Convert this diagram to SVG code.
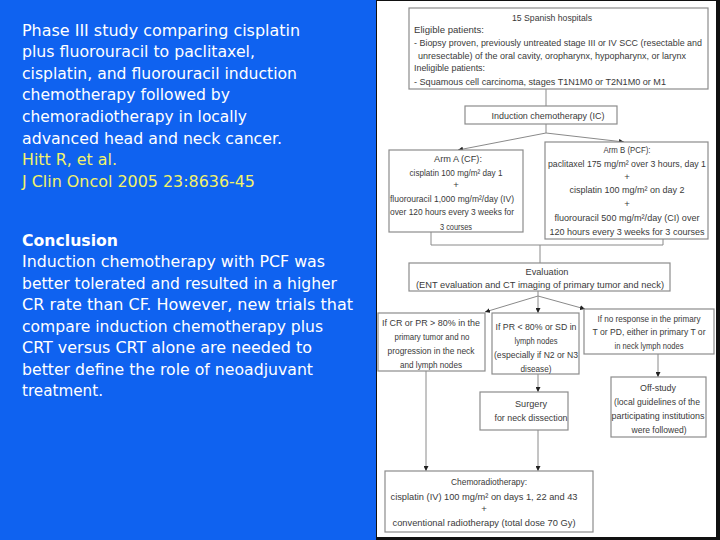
<svg xmlns="http://www.w3.org/2000/svg" width="720" height="540" viewBox="0 0 720 540">
<defs>
<marker id="ah" viewBox="0 0 6 6" refX="6" refY="3" markerWidth="5" markerHeight="5" markerUnits="userSpaceOnUse" orient="auto"><path d="M0,0 L6,3 L0,6 z" fill="#222"/></marker>
<style>
.t{font-family:"DejaVu Sans",Verdana,sans-serif;font-size:15px;fill:#fff}
.y{fill:#f2f26a}
.bd{font-weight:bold}
.b{fill:#fff;stroke:#8c8c8c;stroke-width:1.2}
.f{font-family:"Liberation Sans",Arial,sans-serif;font-size:9.5px;fill:#3a3a3a}
.c{text-anchor:middle}
.l{stroke:#8a8a8a;stroke-width:1;fill:none}
.a{stroke:#8a8a8a;stroke-width:1;fill:none;marker-end:url(#ah)}
</style>
</defs>
<rect width="720" height="540" fill="#0f62f0"/>
<g id="left-text">
<text class="t" x="22" y="35.7" textLength="278" lengthAdjust="spacingAndGlyphs">Phase III study comparing cisplatin</text>
<text class="t" x="22" y="57.3" textLength="233" lengthAdjust="spacingAndGlyphs">plus fluorouracil to paclitaxel,</text>
<text class="t" x="22" y="78.8" textLength="275" lengthAdjust="spacingAndGlyphs">cisplatin, and fluorouracil induction</text>
<text class="t" x="22" y="100.4" textLength="208" lengthAdjust="spacingAndGlyphs">chemotherapy followed by</text>
<text class="t" x="22" y="122" textLength="225" lengthAdjust="spacingAndGlyphs">chemoradiotherapy in locally</text>
<text class="t" x="22" y="143.5" textLength="260" lengthAdjust="spacingAndGlyphs">advanced head and neck cancer.</text>
<text class="t y" x="22" y="165.1" textLength="95" lengthAdjust="spacingAndGlyphs">Hitt R, et al.</text>
<text class="t y" x="22" y="186.7" textLength="233" lengthAdjust="spacingAndGlyphs">J Clin Oncol 2005 23:8636-45</text>
<text class="t bd" x="22" y="245.7" textLength="96" lengthAdjust="spacingAndGlyphs">Conclusion</text>
<text class="t" x="22" y="267.2" textLength="303" lengthAdjust="spacingAndGlyphs">Induction chemotherapy with PCF was</text>
<text class="t" x="22" y="288.6" textLength="315" lengthAdjust="spacingAndGlyphs">better tolerated and resulted in a higher</text>
<text class="t" x="22" y="310.1" textLength="331" lengthAdjust="spacingAndGlyphs">CR rate than CF. However, new trials that</text>
<text class="t" x="22" y="331.6" textLength="301" lengthAdjust="spacingAndGlyphs">compare induction chemotherapy plus</text>
<text class="t" x="22" y="353" textLength="290" lengthAdjust="spacingAndGlyphs">CRT versus CRT alone are needed to</text>
<text class="t" x="22" y="374.5" textLength="291" lengthAdjust="spacingAndGlyphs">better define the role of neoadjuvant</text>
<text class="t" x="22" y="396" textLength="81" lengthAdjust="spacingAndGlyphs">treatment.</text>
</g>
<rect x="376" y="0" width="344" height="540" fill="#111"/>
<rect x="377" y="1" width="339" height="536" fill="#fff"/>
<g id="connectors">
<line class="l" x1="546" y1="89" x2="546" y2="106"/>
<polyline class="l" points="546,124 546,133"/>
<line class="a" x1="546" y1="133" x2="458" y2="150"/>
<line class="a" x1="546" y1="133" x2="624" y2="142"/>
<polyline class="l" points="431,232 431,245 663,245 663,239"/>
<line class="l" x1="540" y1="245" x2="540" y2="263"/>
<line class="l" x1="538" y1="291" x2="538" y2="296"/>
<line class="a" x1="538" y1="296" x2="485" y2="312"/>
<line class="a" x1="538" y1="296" x2="538" y2="313"/>
<line class="a" x1="538" y1="296" x2="585" y2="309"/>
<line class="a" x1="426" y1="371" x2="426" y2="471"/>
<line class="a" x1="538" y1="374" x2="538" y2="392"/>
<line class="a" x1="538" y1="430" x2="538" y2="471"/>
<line class="a" x1="658" y1="354" x2="658" y2="377"/>
</g>
<g id="eligibility">
<rect class="b" x="409" y="8" width="299" height="81"/>
<text class="f c" x="552" y="20.5" textLength="80" lengthAdjust="spacingAndGlyphs">15 Spanish hospitals</text>
<text class="f" x="414" y="33" textLength="70" lengthAdjust="spacingAndGlyphs">Eligible patients:</text>
<text class="f" x="414" y="46" textLength="288" lengthAdjust="spacingAndGlyphs">- Biopsy proven, previously untreated stage III or IV SCC (resectable and</text>
<text class="f" x="418" y="58.5" textLength="268" lengthAdjust="spacingAndGlyphs">unresectable) of the oral cavity, oropharynx, hypopharynx, or larynx</text>
<text class="f" x="414" y="71" textLength="71" lengthAdjust="spacingAndGlyphs">Ineligible patients:</text>
<text class="f" x="414" y="85" textLength="252" lengthAdjust="spacingAndGlyphs">- Squamous cell carcinoma, stages T1N1M0 or T2N1M0 or M1</text>
</g>
<g id="induction">
<rect class="b" x="465" y="106" width="152" height="18"/>
<text class="f c" x="548" y="118.5" textLength="113" lengthAdjust="spacingAndGlyphs">Induction chemotherapy (IC)</text>
</g>
<g id="arm-a">
<rect class="b" x="389" y="150" width="134" height="82"/>
<text class="f c" x="458" y="162" textLength="48" lengthAdjust="spacingAndGlyphs">Arm A (CF):</text>
<text class="f c" x="456" y="175.5" textLength="93" lengthAdjust="spacingAndGlyphs">cisplatin 100 mg/m² day 1</text>
<text class="f c" x="456" y="188">+</text>
<text class="f c" x="452" y="201.5" textLength="124" lengthAdjust="spacingAndGlyphs">fluorouracil 1,000 mg/m²/day (IV)</text>
<text class="f c" x="452" y="215" textLength="124" lengthAdjust="spacingAndGlyphs">over 120 hours every 3 weeks for</text>
<text class="f c" x="456" y="229.5" textLength="32" lengthAdjust="spacingAndGlyphs">3 courses</text>
</g>
<g id="arm-b">
<rect class="b" x="545" y="142" width="163" height="97"/>
<text class="f c" x="627" y="152.5" textLength="47" lengthAdjust="spacingAndGlyphs">Arm B (PCF):</text>
<text class="f c" x="627" y="166.5" textLength="158" lengthAdjust="spacingAndGlyphs">paclitaxel 175 mg/m² over 3 hours, day 1</text>
<text class="f c" x="627" y="179.5">+</text>
<text class="f c" x="627" y="192.5" textLength="115" lengthAdjust="spacingAndGlyphs">cisplatin 100 mg/m² on day 2</text>
<text class="f c" x="627" y="206.5">+</text>
<text class="f c" x="627" y="220.5" textLength="145" lengthAdjust="spacingAndGlyphs">fluorouracil 500 mg/m²/day (CI) over</text>
<text class="f c" x="627" y="234.5" textLength="155" lengthAdjust="spacingAndGlyphs">120 hours every 3 weeks for 3 courses</text>
</g>
<g id="evaluation">
<rect class="b" x="409" y="263" width="261" height="28"/>
<text class="f c" x="547" y="274.5" textLength="43" lengthAdjust="spacingAndGlyphs">Evaluation</text>
<text class="f c" x="540" y="288" textLength="248" lengthAdjust="spacingAndGlyphs">(ENT evaluation and CT imaging of primary tumor and neck)</text>
</g>
<g id="good-response">
<rect class="b" x="378" y="313" width="107" height="58"/>
<text class="f c" x="431" y="325.5" textLength="98" lengthAdjust="spacingAndGlyphs">If CR or PR &gt; 80% in the</text>
<text class="f c" x="432" y="339.5" textLength="75" lengthAdjust="spacingAndGlyphs">primary tumor and no</text>
<text class="f c" x="431" y="353.5" textLength="87" lengthAdjust="spacingAndGlyphs">progression in the neck</text>
<text class="f c" x="431" y="367.5" textLength="62" lengthAdjust="spacingAndGlyphs">and lymph nodes</text>
</g>
<g id="partial-response">
<rect class="b" x="492" y="313" width="87" height="61"/>
<text class="f c" x="536" y="329.5" textLength="81" lengthAdjust="spacingAndGlyphs">If PR &lt; 80% or SD in</text>
<text class="f c" x="536" y="344" textLength="43" lengthAdjust="spacingAndGlyphs">lymph nodes</text>
<text class="f c" x="536" y="358" textLength="84" lengthAdjust="spacingAndGlyphs">(especially if N2 or N3</text>
<text class="f c" x="536" y="372" textLength="31" lengthAdjust="spacingAndGlyphs">disease)</text>
</g>
<g id="no-response">
<rect class="b" x="584" y="309" width="130" height="45"/>
<text class="f c" x="649" y="321.5" textLength="103" lengthAdjust="spacingAndGlyphs">If no response in the primary</text>
<text class="f c" x="649" y="334.5" textLength="113" lengthAdjust="spacingAndGlyphs">T or PD, either in primary T or</text>
<text class="f c" x="649" y="348.5" textLength="69" lengthAdjust="spacingAndGlyphs">in neck lymph nodes</text>
</g>
<g id="surgery">
<rect class="b" x="480" y="392" width="88" height="38"/>
<text class="f c" x="531" y="407" textLength="32" lengthAdjust="spacingAndGlyphs">Surgery</text>
<text class="f c" x="531" y="421" textLength="73" lengthAdjust="spacingAndGlyphs">for neck dissection</text>
</g>
<g id="off-study">
<rect class="b" x="611" y="377" width="95" height="60"/>
<text class="f c" x="658" y="391" textLength="36" lengthAdjust="spacingAndGlyphs">Off-study</text>
<text class="f c" x="657" y="405" textLength="86" lengthAdjust="spacingAndGlyphs">(local guidelines of the</text>
<text class="f c" x="658" y="419" textLength="93" lengthAdjust="spacingAndGlyphs">participating institutions</text>
<text class="f c" x="659" y="433" textLength="55" lengthAdjust="spacingAndGlyphs">were followed)</text>
</g>
<g id="chemoradiotherapy">
<rect class="b" x="385" y="471" width="208" height="61"/>
<text class="f c" x="489" y="485" textLength="76" lengthAdjust="spacingAndGlyphs">Chemoradiotherapy:</text>
<text class="f c" x="484" y="500" textLength="187" lengthAdjust="spacingAndGlyphs">cisplatin (IV) 100 mg/m² on days 1, 22 and 43</text>
<text class="f c" x="484" y="512">+</text>
<text class="f c" x="484" y="526" textLength="183" lengthAdjust="spacingAndGlyphs">conventional radiotherapy (total dose 70 Gy)</text>
</g>
</svg>
